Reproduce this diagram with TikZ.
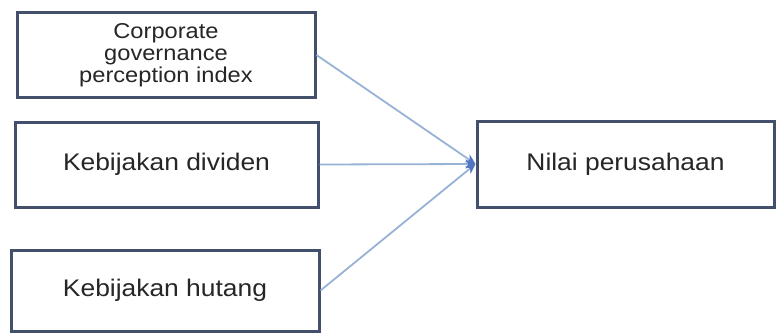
\documentclass[tikz,border=0pt]{standalone}
\usepackage{fontspec}
\setmainfont{Liberation Sans}[FakeStretch=1.1]
\usetikzlibrary{arrows.meta}
\usetikzlibrary{positioning}
\definecolor{boxline}{RGB}{66,80,108}
\definecolor{arrline}{RGB}{152,178,214}
\definecolor{arrhead}{RGB}{80,118,194}
\tikzset{box/.style = {draw=boxline, line width=3pt, fill=white, rectangle,
                       align=center, inner sep=0, text=black!85}}
\tikzset{link/.style = {draw=arrline, line width=1.8pt,
                        -{Stealth[length=10pt, width=9pt, inset=3pt, color=arrhead]}}}

\begin{document}
\begin{tikzpicture}[x=1pt, y=1pt]
    \useasboundingbox (0,0) rectangle (776,-332);
    \node [box, minimum width=298, minimum height=85,
           font=\fontsize{21.5}{22}\selectfont] (cgpi) at (166,-55)
          {Corporate\\governance\\perception index};
    \node [box, minimum width=303, minimum height=85,
           font=\fontsize{24}{28}\selectfont] (dividen) at (166.5,-164.5)
          {Kebijakan dividen};
    \node [box, minimum width=308, minimum height=81,
           font=\fontsize{24}{28}\selectfont] (hutang) at (165,-290.5)
          {Kebijakan hutang};
    \node [box, minimum width=297, minimum height=86,
           font=\fontsize{24}{28}\selectfont] (nilai) at (625.5,-164)
          {Nilai perusahaan};
    \foreach \src in {cgpi, dividen, hutang} {
      \draw [link] (\src.east) -- (nilai.west);
    }
  \end{tikzpicture}
\end{document}
